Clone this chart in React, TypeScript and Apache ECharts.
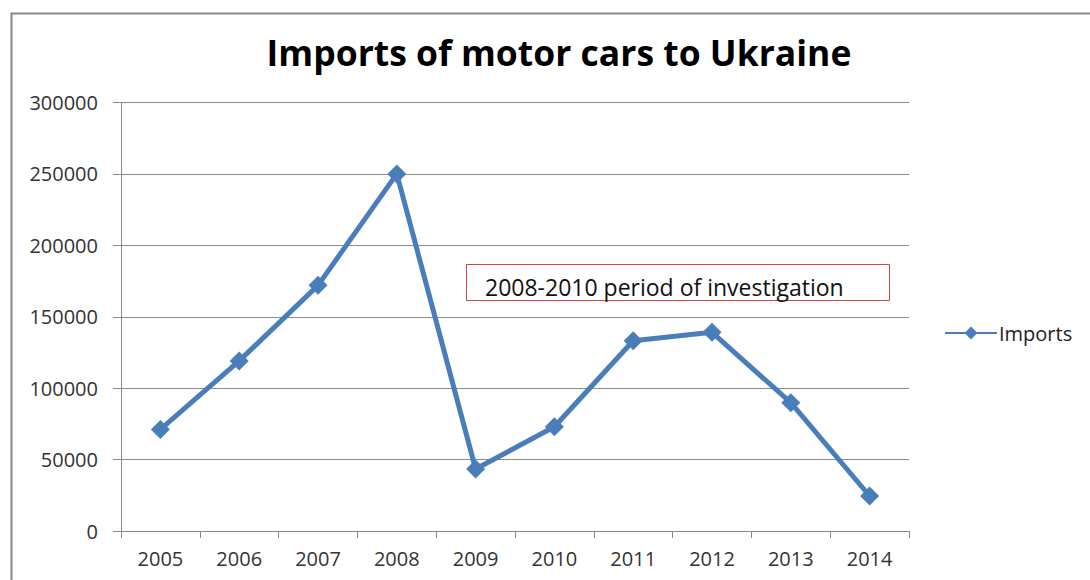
import React, { useEffect, useRef } from "react";
import * as echarts from "echarts";

const years = ["2005", "2006", "2007", "2008", "2009", "2010", "2011", "2012", "2013", "2014"];
const imports = [71100, 119100, 172000, 250000, 43400, 73000, 133200, 139100, 89800, 24500];
const yTicks = { min: 0, max: 300000, interval: 50000 };
const titleText = "Imports of motor cars to Ukraine";
const noteText = "2008-2010 period of investigation";
const seriesName = "Imports";

export default function App() {
  const ref = useRef<HTMLDivElement>(null);
  useEffect(() => {
    document.body.style.margin = "0";
    const chart = echarts.init(ref.current!, null, { renderer: "svg" });
    const font = "'Open Sans', sans-serif";
    chart.setOption({
      animation: false,
      backgroundColor: "#ffffff",
      title: {
        text: titleText,
        left: 554,
        top: 29,
        textAlign: "center",
        textStyle: { fontFamily: font, fontWeight: "bold", fontSize: 35.5, color: "#000" },
      },
      legend: {
        data: [seriesName],
        left: 939,
        top: 318,
        itemWidth: 52,
        itemHeight: 16,
        itemGap: 4,
        textStyle: { fontFamily: font, fontSize: 20, color: "#222", padding: [0, 0, 0, -3] },
      },
      grid: { left: 121, top: 102.5, right: 181, bottom: 49, containLabel: false },
      xAxis: {
        type: "category",
        data: years,
        boundaryGap: true,
        axisLine: { lineStyle: { color: "#888", width: 1 } },
        axisTick: { show: true, length: 7, alignWithLabel: false, lineStyle: { color: "#888" } },
        axisLabel: { fontFamily: font, fontSize: 20, color: "#333", margin: 17 },
      },
      yAxis: {
        type: "value",
        min: yTicks.min,
        max: yTicks.max,
        interval: yTicks.interval,
        axisLine: { show: true, lineStyle: { color: "#888", width: 1 } },
        axisTick: { show: true, length: 8, lineStyle: { color: "#888" } },
        splitLine: { show: true, lineStyle: { color: "#8c8c8c", width: 1 } },
        axisLabel: {
          fontFamily: font,
          fontSize: 20,
          color: "#333",
          margin: 23,
          formatter: (v: number) => String(v),
        },
      },
      series: [
        {
          name: seriesName,
          type: "line",
          data: imports,
          symbol: "diamond",
          symbolSize: 19,
          lineStyle: { color: "#4a7ebb", width: 5 },
          itemStyle: { color: "#4a7ebb" },
        },
      ],
      graphic: [
        {
          type: "rect",
          left: 9,
          top: 11,
          shape: { x: 0, y: 0, width: 1100, height: 600 },
          style: { fill: "none", stroke: "#888", lineWidth: 2 },
          silent: true,
        },
        {
          type: "rect",
          shape: { x: 466.5, y: 264.5, width: 423, height: 36 },
          style: { fill: "#fff", stroke: "#d04545", lineWidth: 1 },
          z: 100,
        },
        {
          type: "text",
          x: 485,
          y: 287,
          style: {
            text: noteText,
            fontFamily: font,
            fontSize: 23,
            fill: "#111",
            verticalAlign: "middle",
          },
          z: 101,
        },
      ],
    });
    return () => chart.dispose();
  }, []);
  return <div ref={ref} style={{ position: "fixed", left: 0, top: 0, width: 1090, height: 580 }} />;
}
